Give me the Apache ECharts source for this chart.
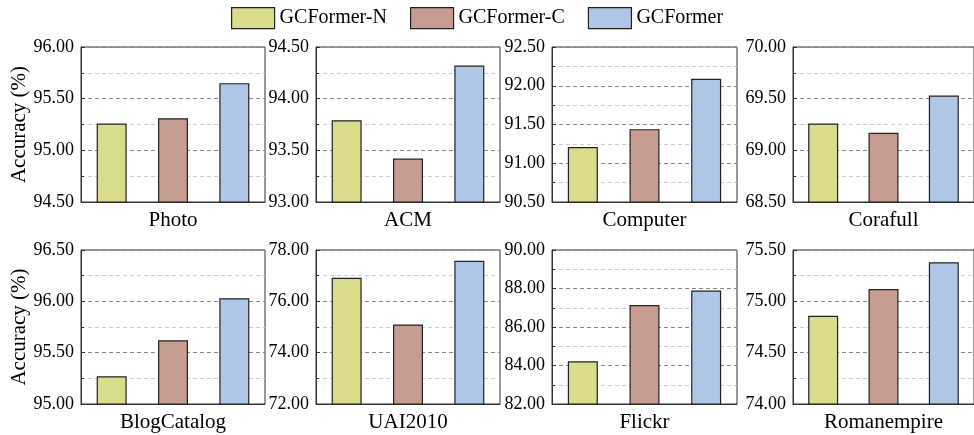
<!DOCTYPE html>
<html>
<head>
<meta charset="utf-8">
<script src="https://cdn.jsdelivr.net/npm/echarts@6/dist/echarts.min.js"></script>
<style>
html,body{margin:0;padding:0;background:#fff;}
#chart{width:974px;height:435px;}
</style>
</head>
<body>
<div id="chart"></div>
<script>
// ---- data ----
const datasets = ['Photo', 'ACM', 'Computer', 'Corafull', 'BlogCatalog', 'UAI2010', 'Flickr', 'Romanempire'];
const models = ['GCFormer-N', 'GCFormer-C', 'GCFormer'];
const gcformerN = [95.26, 93.79, 91.21, 69.26, 95.27, 76.92, 84.22, 74.86];
const gcformerC = [95.31, 93.42, 91.44, 69.17, 95.62, 75.10, 87.14, 75.12];
const gcformerFull = [95.65, 94.32, 92.09, 69.53, 96.03, 77.58, 87.89, 75.38];
const yMin = [94.5, 93.0, 90.5, 68.5, 95.0, 72.0, 82.0, 74.0];
const yMax = [96.0, 94.5, 92.5, 70.0, 96.5, 78.0, 90.0, 75.5];
const yStep = [0.5, 0.5, 0.5, 0.5, 0.5, 2, 2, 0.5];
const yAxisTitle = 'Accuracy (%)';

// ---- layout / style ----
const colLeft = [81, 316, 552, 793];
const colWidth = [184, 184, 185, 186];
const rowTop = [47, 250];
const rowHeight = [155, 154];
const colors = ['#dadb8b', '#c59b92', '#b0c6e6'];
const FONT = '"Liberation Serif", "Times New Roman", serif';
const modelValues = [gcformerN, gcformerC, gcformerFull];

const grids = [], xAxes = [], yAxes = [], series = [];
datasets.forEach((name, i) => {
  const r = Math.floor(i / 4), c = i % 4;
  grids.push({
    left: colLeft[c], top: rowTop[r], width: colWidth[c], height: rowHeight[r],
    show: true, borderColor: '#333', borderWidth: 1, backgroundColor: 'transparent'
  });
  xAxes.push({
    type: 'category', gridIndex: i, data: models,
    name: name, nameLocation: 'middle', nameGap: 8,
    nameTextStyle: { fontFamily: FONT, fontSize: 21, color: '#000', verticalAlign: 'top' },
    axisLine: { lineStyle: { color: '#333', width: 1 } },
    axisTick: { show: true, inside: true, alignWithLabel: true, length: 4, lineStyle: { color: '#333' } },
    axisLabel: { show: false },
    splitLine: { show: false }
  });
  yAxes.push({
    type: 'value', gridIndex: i, min: yMin[i], max: yMax[i], interval: yStep[i],
    name: c === 0 ? yAxisTitle : '', nameLocation: 'middle', nameGap: 46, nameRotate: 90,
    nameTextStyle: { fontFamily: FONT, fontSize: 21, color: '#000' },
    axisLine: { show: true, lineStyle: { color: '#333', width: 1 } },
    axisTick: { show: true, inside: true, length: 4, lineStyle: { color: '#333' } },
    minorTick: { show: true, splitNumber: 2, length: 3, lineStyle: { color: '#333' } },
    axisLabel: {
      fontFamily: FONT, fontSize: 18, color: '#000', margin: 7,
      formatter: v => v.toFixed(2)
    },
    splitLine: { show: true, lineStyle: { color: '#888', type: [4, 3], width: 1 } },
    minorSplitLine: { show: true, lineStyle: { color: '#ccc', type: [4, 3], width: 1 } }
  });
  models.forEach((m, k) => {
    const d = models.map((_, j) => (j === k ? modelValues[k][i] : '-'));
    series.push({
      type: 'bar', name: m, xAxisIndex: i, yAxisIndex: i, data: d,
      barWidth: 30, barGap: '-100%',
      itemStyle: { color: colors[k], borderColor: '#222', borderWidth: 1.2 }
    });
  });
});

const chart = echarts.init(document.getElementById('chart'), null, { renderer: 'canvas' });
chart.setOption({
  animation: false,
  backgroundColor: '#fff',
  legend: {
    data: models, left: 226, top: 2, itemWidth: 43, itemHeight: 21, itemGap: 23,
    icon: 'rect',
    itemStyle: { borderColor: '#222', borderWidth: 1.2 },
    textStyle: { fontFamily: FONT, fontSize: 20, color: '#000' }
  },
  grid: grids, xAxis: xAxes, yAxis: yAxes, series: series
});
</script>
</body>
</html>
